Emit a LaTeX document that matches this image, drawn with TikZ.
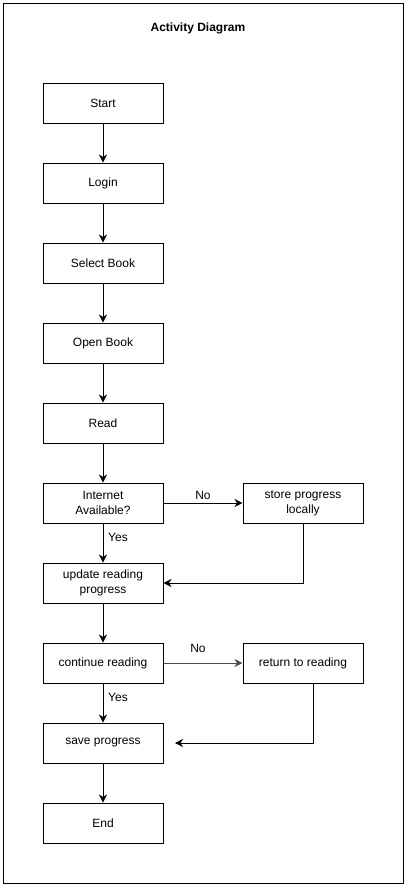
\documentclass[tikz,border=0pt]{standalone}
\usepackage{fontspec}
\setmainfont{Liberation Sans}
\usetikzlibrary{arrows.meta}
\tikzset{
	activity/.style={draw, line width=1pt, minimum width=120pt, minimum height=40pt, align=center, inner sep=2pt, font=\fontsize{12}{15}\selectfont},
	flow/.style={line width=1pt, -{Stealth[length=8pt, width=8pt, inset=2.5pt]}},
	guard/.style={font=\fontsize{12}{15}\selectfont}
}
\begin{document}
\begin{tikzpicture}[x=1pt, y=-1pt]
	\useasboundingbox (0, 0) rectangle (407, 887);
	\draw[line width=1pt] (3, 3) rectangle (403, 883);
	\node[font=\fontsize{12}{15}\selectfont\bfseries] (title) at (198, 28) {Activity Diagram};
	\node[activity] (start) at (103, 103) {Start};
	\node[activity] (login) at (103, 183) {Login};
	\node[activity] (select) at (103, 263) {Select Book};
	\node[activity] (open) at (103, 343) {Open Book};
	\node[activity] (read) at (103, 423) {Read};
	\node[activity] (internet) at (103, 503) {Internet\\Available?};
	\node[activity] (store) at (303, 503) {store progress\\locally};
	\node[activity] (update) at (103, 583) {update reading\\progress};
	\node[activity] (continue) at (103, 663) {continue reading};
	\node[activity] (return) at (303, 663) {return to reading};
	\node[activity] (save) at (103, 743) {save progress};
	\node[activity] (end) at (103, 823) {End};
	\coordinate (returnout) at (313, 683);
	\coordinate (savein) at (175, 743);
	\draw[flow] (start) -- (login);
	\draw[flow] (login) -- (select);
	\draw[flow] (select) -- (open);
	\draw[flow] (open) -- (read);
	\draw[flow] (read) -- (internet);
	\draw[flow] (internet) -- (store);
	\draw[flow] (internet) -- (update);
	\draw[flow] (store.south) |- (update.east);
	\draw[flow] (update) -- (continue);
	\draw[flow, draw=black!70] (continue) -- (return);
	\draw[flow] (continue) -- (save);
	\draw[flow] (returnout) |- (savein);
	\draw[flow] (save) -- (end);
	\node[guard] (nointernet) at (203, 495) {No};
	\node[guard] (yesinternet) at (118, 537) {Yes};
	\node[guard] (nocontinue) at (198, 648) {No};
	\node[guard] (yescontinue) at (118, 697) {Yes};
\end{tikzpicture}
\end{document}
